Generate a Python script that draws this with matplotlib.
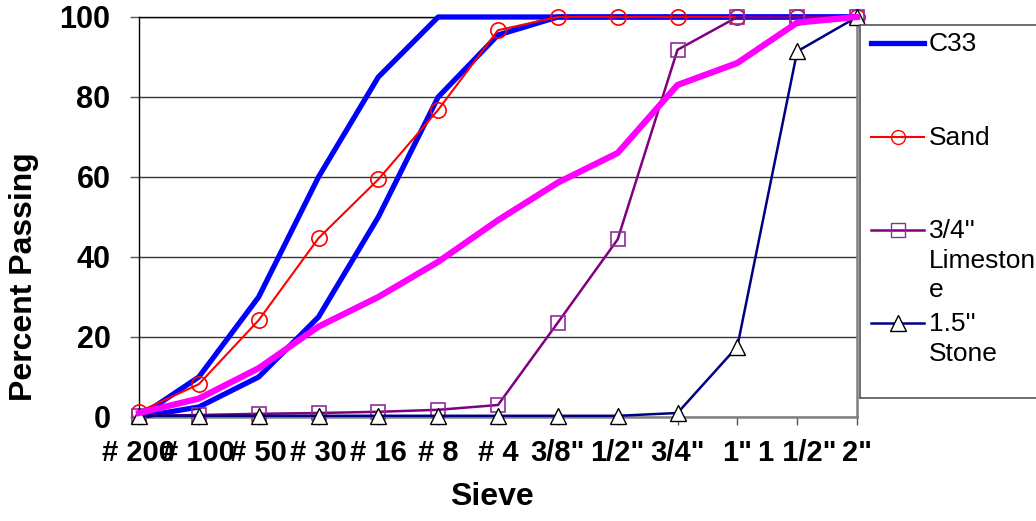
import matplotlib
matplotlib.use("Agg")
import matplotlib.pyplot as plt

plt.rcParams['font.family'] = ['Liberation Sans', 'DejaVu Sans']

sieves = ['# 200', '# 100', '# 50', '# 30', '# 16', '# 8', '# 4',
          '3/8"', '1/2"', '3/4"', '1"', '1 1/2"', '2"']

c33_lower = [0, 2.5, 10, 25, 50, 80, 95.5, 100, 100, 100, 100, 100, 100]
c33_upper = [0, 10, 30, 60, 85, 100, 100, 100, 100, 100, 100, 100, 100]
sand = [1.3, 8.2, 24.2, 44.7, 59.4, 76.8, 96.7, 100, 100, 100, 100, 100, 100]
limestone = [0.3, 0.5, 0.8, 1.0, 1.3, 1.8, 3.0, 23.6, 44.4, 91.8, 100, 100, 100]
stone = [0.3, 0.3, 0.3, 0.3, 0.3, 0.3, 0.3, 0.3, 0.3, 1.0, 17.6, 91.4, 100]
blend = [1, 4.6, 12.2, 22.6, 30, 38.8, 49.2, 58.6, 66, 83, 88.5, 98.6, 100]

W, H = 1036, 521
fig = plt.figure(figsize=(W / 100, H / 100), dpi=100)
ax = fig.add_axes([139 / W, (H - 417) / H, (857 - 139) / W, (417 - 17) / H])

x = range(len(sieves))
ax.plot(x, c33_lower, color='#0000ff', lw=3.8, zorder=3, clip_on=False)
ax.plot(x, c33_upper, color='#0000ff', lw=3.8, zorder=3, clip_on=False)
ax.plot(x, sand, color='#ff0000', lw=1.5, marker='o', ms=11, mfc='none',
        mec='#ff0000', mew=1.2, zorder=4, clip_on=False)
ax.plot(x, limestone, color='#800080', lw=1.8, marker='s', ms=10, mfc='none',
        mec='#8e2f95', mew=1.2, zorder=4, clip_on=False)
ax.plot(x, stone, color='#000080', lw=1.8, marker='^', ms=11, mfc='white',
        mec='black', mew=1.0, zorder=5, clip_on=False)
ax.plot(x, blend, color='#ff00ff', lw=4.5, zorder=6, clip_on=False)

ax.set_xlim(0, len(sieves) - 1)
ax.set_ylim(0, 100)
ax.set_yticks([0, 20, 40, 60, 80, 100])
ax.set_xticks(list(x))
ax.set_xticklabels(sieves, fontsize=21, fontweight='bold')
for lab in ax.get_yticklabels():
    lab.set_fontsize(22)
    lab.set_fontweight('bold')
ax.tick_params(axis='y', length=6.5, width=1, color='#555555', pad=14)
ax.tick_params(axis='x', length=6, width=1, color='#555555', pad=10)
ax.grid(axis='y', color='#333333', lw=1)
ax.set_axisbelow(True)
for side in ['left', 'top']:
    ax.spines[side].set_color('black')
    ax.spines[side].set_linewidth(1)
for side in ['right', 'bottom']:
    ax.spines[side].set_color('#808080')
    ax.spines[side].set_linewidth(1.8)

fig.text(24 / W, 1 - 277 / H, 'Percent Passing', rotation=90, ha='center',
         va='center', fontsize=23, fontweight='bold')
fig.text(492 / W, 1 - 497 / H, 'Sieve', ha='center', va='center',
         fontsize=23, fontweight='bold')

# legend box drawn by hand so wrapped labels line up like the original
lg = fig.add_axes([860 / W, (H - 398) / H, 200 / W, (398 - 25) / H])
lg.set_xlim(0, 200)
lg.set_ylim(373, 0)
lg.set_xticks([])
lg.set_yticks([])
for s in lg.spines.values():
    s.set_color('#555555')
    s.set_linewidth(1.2)

entries = [
    ("C33", dict(color='#0000ff', lw=3.8), 18),
    ("Sand", dict(color='#ff0000', lw=1.5, marker='o', ms=10, mfc='none', mec='#ff0000'), 112),
    ("3/4''\nLimeston\ne", dict(color='#800080', lw=1.8, marker='s', ms=10, mfc='none', mec='#8e2f95'), 205),
    ("1.5''\nStone", dict(color='#000080', lw=1.8, marker='^', ms=11, mfc='white', mec='black'), 298),
]
for text, style, yy in entries:
    lg.plot([11, 64], [yy, yy], **style, markevery=[])
    if 'marker' in style:
        lg.plot([37.5], [yy], **style)
    lg.text(69, yy - 11, text, fontsize=19, va='top', ha='left', linespacing=1.3)

fig.savefig('out.png', dpi=100)
